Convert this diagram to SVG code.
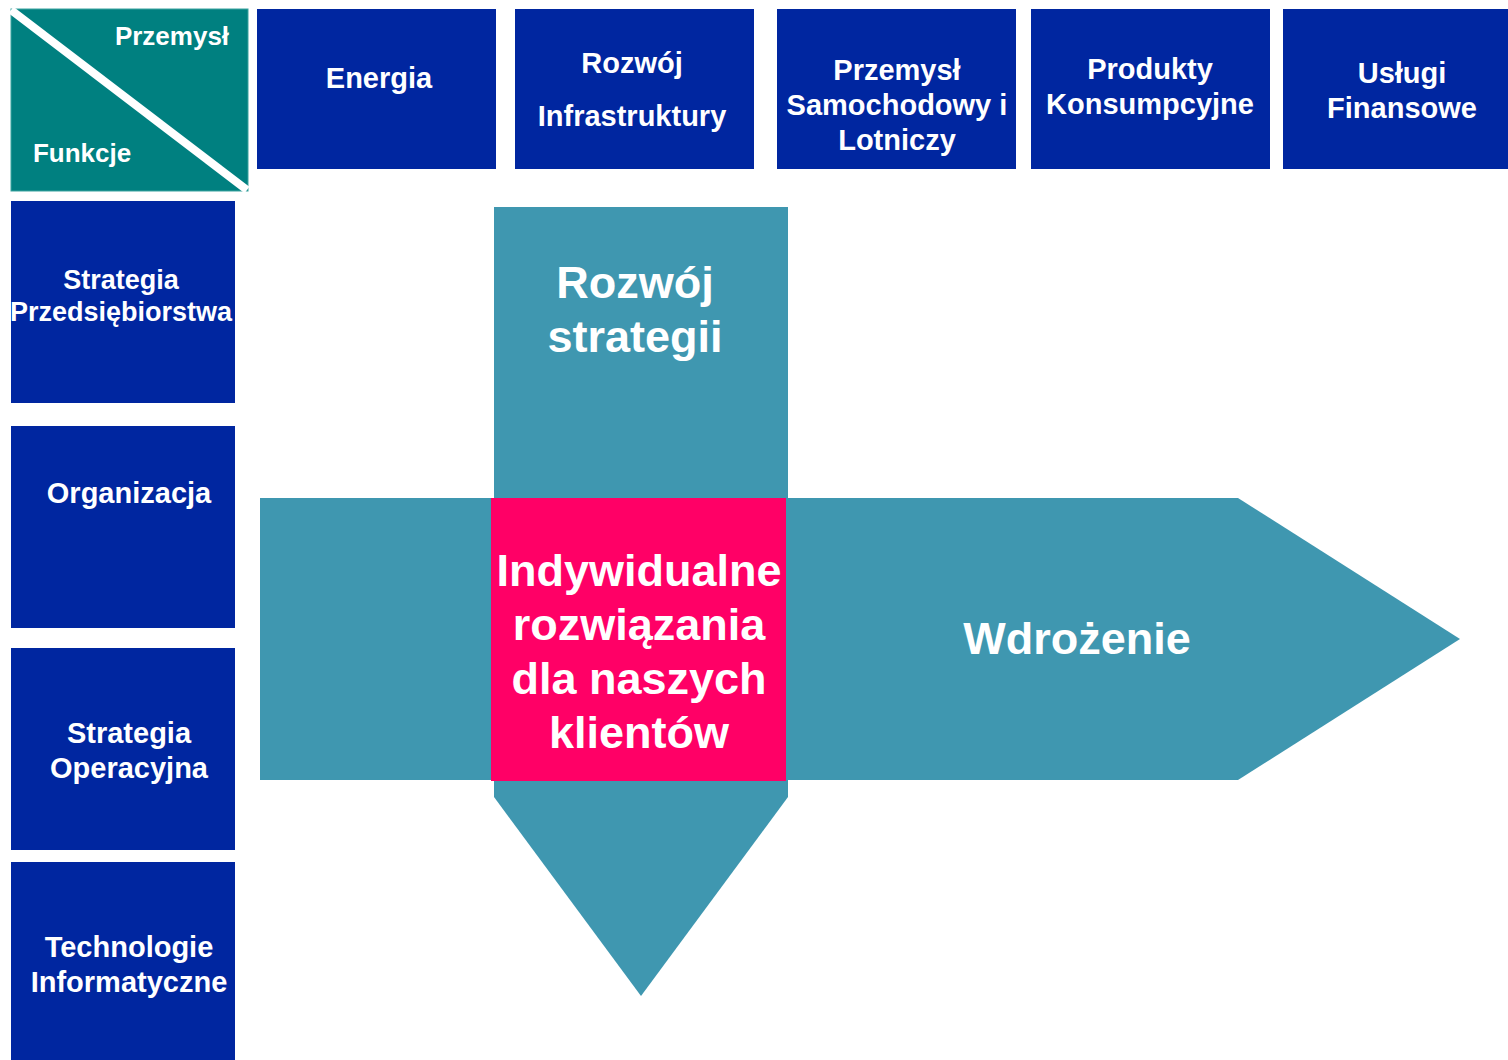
<svg xmlns="http://www.w3.org/2000/svg" width="1508" height="1060" viewBox="0 0 1508 1060">
<style>
.box{fill:#0026A0}
.t{font-family:"Liberation Sans",Arial,sans-serif;font-weight:bold;fill:#fff;text-anchor:middle}
.h{font-size:29px}
.l{font-size:29px}
.big{font-size:45px}
</style>
<rect width="1508" height="1060" fill="#fff"/>
<g id="corner">
<rect x="11" y="9" width="237" height="182" fill="#008080" stroke="#3aa39f" stroke-width="1"/>
<line x1="11" y1="10" x2="247" y2="190" stroke="#fff" stroke-width="8"/>
<text class="t" x="172" y="45" style="font-size:26px">Przemysł</text>
<text class="t" x="82" y="162" style="font-size:26px">Funkcje</text>
</g>
<g id="h-energia"><rect class="box" x="257" y="9" width="239" height="160"/><text class="t h" x="379" y="88">Energia</text></g>
<g id="h-infra"><rect class="box" x="515" y="9" width="239" height="160"/><text class="t h" x="632" y="73">Rozwój</text><text class="t h" x="632" y="126">Infrastruktury</text></g>
<g id="h-auto"><rect class="box" x="777" y="9" width="239" height="160"/><text class="t h" x="897" y="80">Przemysł</text><text class="t h" x="897" y="115">Samochodowy i</text><text class="t h" x="897" y="150">Lotniczy</text></g>
<g id="h-cons"><rect class="box" x="1031" y="9" width="239" height="160"/><text class="t h" x="1150" y="79">Produkty</text><text class="t h" x="1150" y="114">Konsumpcyjne</text></g>
<g id="h-fin"><rect class="box" x="1283" y="9" width="225" height="160"/><text class="t h" x="1402" y="83">Usługi</text><text class="t h" x="1402" y="118">Finansowe</text></g>
<g id="f-strat"><rect class="box" x="11" y="201" width="224" height="202"/><text class="t" x="121" y="289" style="font-size:27px">Strategia</text><text class="t" x="121" y="321" style="font-size:27px">Przedsiębiorstwa</text></g>
<g id="f-org"><rect class="box" x="11" y="426" width="224" height="202"/><text class="t l" x="129" y="503">Organizacja</text></g>
<g id="f-oper"><rect class="box" x="11" y="648" width="224" height="202"/><text class="t l" x="129" y="743">Strategia</text><text class="t l" x="129" y="778">Operacyjna</text></g>
<g id="f-it"><rect class="box" x="11" y="862" width="224" height="198"/><text class="t l" x="129" y="957">Technologie</text><text class="t l" x="129" y="992">Informatyczne</text></g>
<g id="connectors">
<path id="arrow-down" d="M494 207 H788 V797 L641 996 L494 797 Z" fill="#3F97B0"/>
<path id="arrow-right" d="M260 498 H1238 L1460 639 L1238 780 H260 Z" fill="#3F97B0"/>
</g>
<g id="center">
<rect x="491" y="498" width="295" height="283" fill="#FF0066"/>
<text class="t big" x="639" y="586">Indywidualne</text>
<text class="t big" x="639" y="640">rozwiązania</text>
<text class="t big" x="639" y="694">dla naszych</text>
<text class="t big" x="639" y="748">klientów</text>
</g>
<g id="label-strategy"><text class="t big" x="635" y="298">Rozwój</text><text class="t big" x="635" y="352">strategii</text></g>
<g id="label-impl"><text class="t big" x="1077" y="654">Wdrożenie</text></g>
</svg>
